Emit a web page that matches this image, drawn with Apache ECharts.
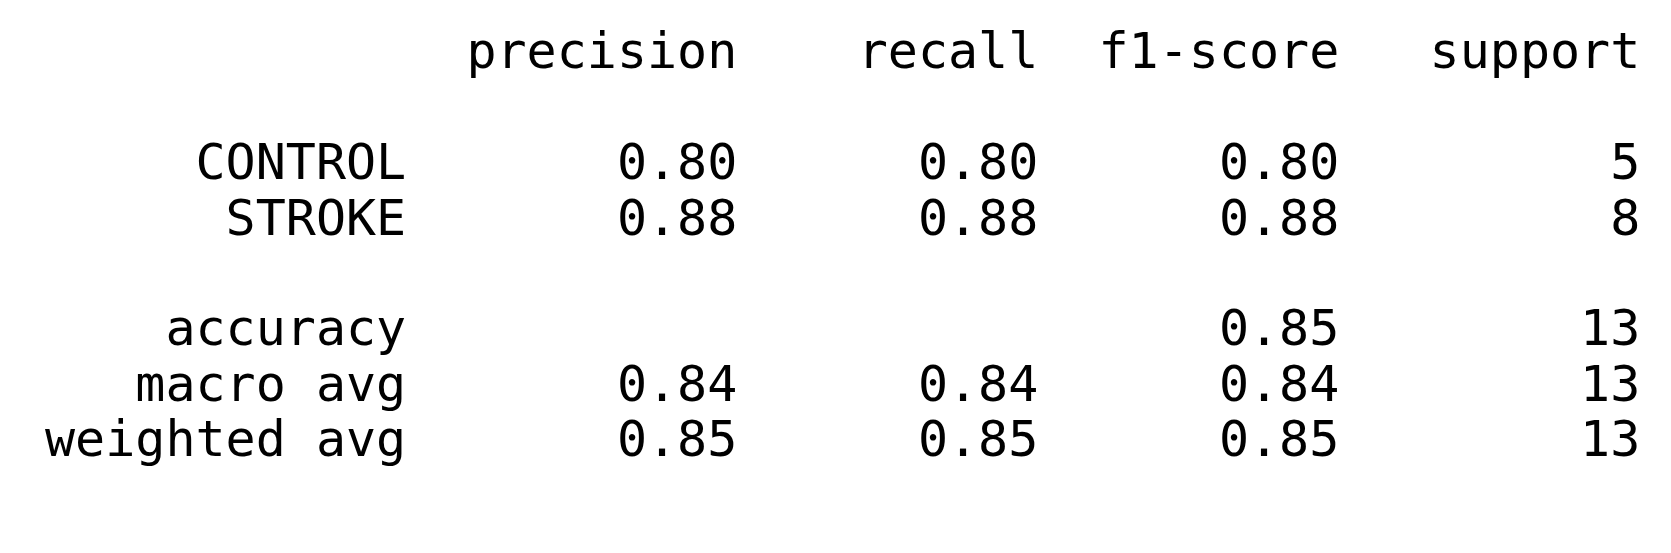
<!DOCTYPE html>
<html lang="en">
<head>
<meta charset="utf-8" />
<script type="text/javascript" src="https://cdn.jsdelivr.net/npm/echarts@6/dist/echarts.min.js"></script>
<style>
	html, body { margin: 0; padding: 0; background: #ffffff; }
	#main { width: 1671px; height: 553px; }
</style>
</head>
<body>
<div id="main"></div>
<script type="text/javascript">
	// classification report values
	var headers = ['precision', 'recall', 'f1-score', 'support'];
	var classNames = ['CONTROL', 'STROKE'];
	var precision = [0.80, 0.88];
	var recall = [0.80, 0.88];
	var f1score = [0.80, 0.88];
	var support = [5, 8];
	var accuracy = 0.85;
	var totalSupport = 13;
	var macroAvg = [0.84, 0.84, 0.84];
	var weightedAvg = [0.85, 0.85, 0.85];

	// text layout like sklearn: name width 12, then columns of width 10 (in characters)
	var colEnds = [12, 23, 33, 43, 53];

	function fmt(v) { return v.toFixed(2); }

	// build cells: [right edge (chars), line number, text]
	var cells = [];
	headers.forEach(function (h, i) { cells.push([colEnds[i + 1], 0, h]); });
	classNames.forEach(function (c, i) {
		var line = 2 + i;
		cells.push([colEnds[0], line, c]);
		cells.push([colEnds[1], line, fmt(precision[i])]);
		cells.push([colEnds[2], line, fmt(recall[i])]);
		cells.push([colEnds[3], line, fmt(f1score[i])]);
		cells.push([colEnds[4], line, String(support[i])]);
	});
	cells.push([colEnds[0], 5, 'accuracy']);
	cells.push([colEnds[3], 5, fmt(accuracy)]);
	cells.push([colEnds[4], 5, String(totalSupport)]);
	[['macro avg', macroAvg, 6], ['weighted avg', weightedAvg, 7]].forEach(function (r) {
		cells.push([colEnds[0], r[2], r[0]]);
		cells.push([colEnds[1], r[2], fmt(r[1][0])]);
		cells.push([colEnds[2], r[2], fmt(r[1][1])]);
		cells.push([colEnds[3], r[2], fmt(r[1][2])]);
		cells.push([colEnds[4], r[2], String(totalSupport)]);
	});

	var fontSize = 50;
	var charW = fontSize * 0.602;
	var lineH = 55.4;
	var myChart = echarts.init(document.getElementById('main'));
	var option = {
		animation: false,
		backgroundColor: '#ffffff',
		grid: { left: 45, width: 53 * charW, top: 55.5, height: 8 * lineH },
		xAxis: { type: 'value', min: 0, max: 53, show: false },
		yAxis: { type: 'value', min: 0, max: 8, inverse: true, show: false },
		series: [{
			type: 'scatter',
			symbolSize: 0,
			data: cells,
			label: {
				show: true,
				position: 'left',
				distance: 0,
				formatter: function (p) { return p.value[2]; },
				fontFamily: 'DejaVu Sans Mono',
				fontSize: fontSize,
				color: '#000000',
				opacity: 1
			}
		}]
	};
	myChart.setOption(option);
</script>
</body>
</html>
